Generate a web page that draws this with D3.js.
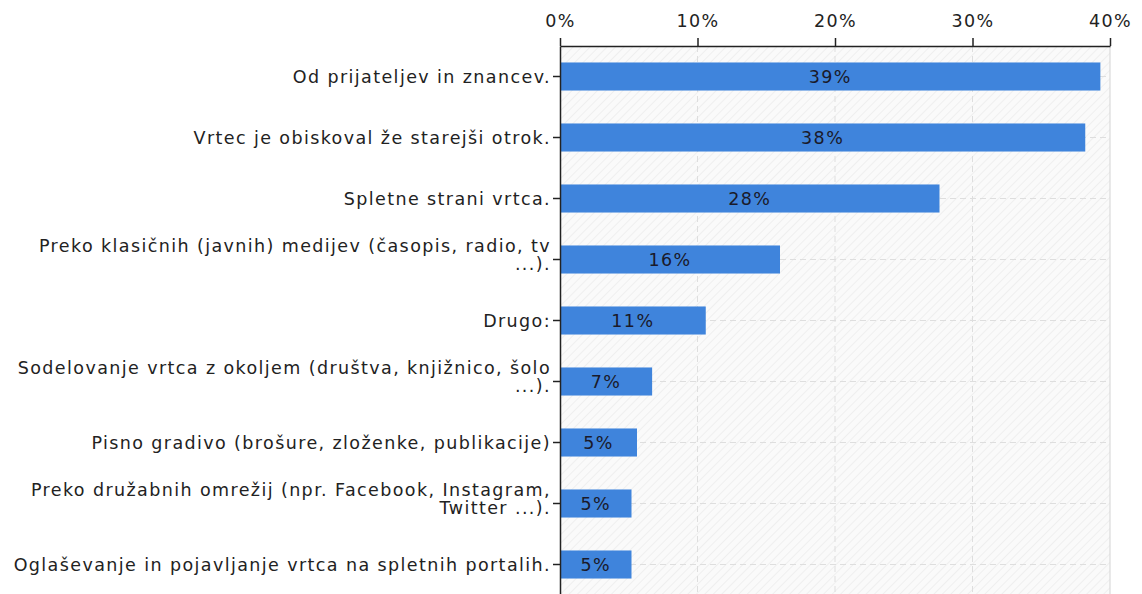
<!DOCTYPE html>
<html>
<head>
<meta charset="utf-8">
<script src="https://cdn.jsdelivr.net/npm/d3@7"></script>
<style>
  html, body { margin: 0; padding: 0; background: #fff; }
  svg { display: block; font-family: "DejaVu Sans", Verdana, sans-serif; }
  text { letter-spacing: 1.4px; }
</style>
</head>
<body>
<script>
// data
const categories = [
  "Od prijateljev in znancev.",
  "Vrtec je obiskoval že starejši otrok.",
  "Spletne strani vrtca.",
  "Preko klasičnih (javnih) medijev (časopis, radio, tv\n...).",
  "Drugo:",
  "Sodelovanje vrtca z okoljem (društva, knjižnico, šolo\n...).",
  "Pisno gradivo (brošure, zloženke, publikacije)",
  "Preko družabnih omrežij (npr. Facebook, Instagram,\nTwitter ...).",
  "Oglaševanje in pojavljanje vrtca na spletnih portalih."
];
const values = [39.3, 38.2, 27.6, 16.0, 10.6, 6.7, 5.6, 5.2, 5.2];
const valueLabels = ["39%", "38%", "28%", "16%", "11%", "7%", "5%", "5%", "5%"];
const xTicks = [0, 10, 20, 30, 40];

const width = 1142, height = 594;
const plotLeft = 560, plotRight = 1110, plotTop = 46;
const fontSize = 17.5;

const svg = d3.select("body").append("svg")
  .attr("width", width)
  .attr("height", height);

const x = d3.scaleLinear().domain([0, 40]).range([plotLeft, plotRight]);
const y = d3.scaleBand().domain(categories).range([plotTop, plotTop + 9 * 61])
  .paddingInner(0.54).paddingOuter(0.27);

// hatched background
const defs = svg.append("defs");
const pat = defs.append("pattern")
  .attr("id", "hatch")
  .attr("patternUnits", "userSpaceOnUse")
  .attr("width", 6).attr("height", 6)
  .attr("patternTransform", "rotate(45)");
pat.append("rect").attr("width", 6).attr("height", 6).attr("fill", "#fafafa");
pat.append("line").attr("x1", 0).attr("y1", 0).attr("x2", 0).attr("y2", 6)
  .attr("stroke", "#e8e8e8").attr("stroke-width", 1.2);

svg.append("rect")
  .attr("x", plotLeft).attr("y", plotTop)
  .attr("width", plotRight - plotLeft).attr("height", height - plotTop)
  .attr("fill", "url(#hatch)");

// grid
svg.append("g").selectAll("line")
  .data(xTicks.slice(1, -1))
  .join("line")
  .attr("x1", d => x(d)).attr("x2", d => x(d))
  .attr("y1", plotTop).attr("y2", height)
  .attr("stroke", "#dedede").attr("stroke-dasharray", "6,4");

svg.append("g").selectAll("line")
  .data(categories)
  .join("line")
  .attr("x1", plotLeft).attr("x2", plotRight)
  .attr("y1", d => y(d) + y.bandwidth() / 2).attr("y2", d => y(d) + y.bandwidth() / 2)
  .attr("stroke", "#dedede").attr("stroke-dasharray", "6,4");

svg.append("line")
  .attr("x1", plotRight).attr("x2", plotRight).attr("y1", plotTop).attr("y2", height)
  .attr("stroke", "#d4d4d4");

// bars
svg.append("g").selectAll("rect")
  .data(values)
  .join("rect")
  .attr("x", x(0))
  .attr("y", (d, i) => y(categories[i]))
  .attr("width", d => x(d) - x(0))
  .attr("height", y.bandwidth())
  .attr("fill", "#3f84dc");

svg.append("g").selectAll("text")
  .data(values)
  .join("text")
  .attr("x", d => (x(d) + x(0)) / 2)
  .attr("y", (d, i) => y(categories[i]) + y.bandwidth() / 2 + 6.5)
  .attr("text-anchor", "middle")
  .attr("font-size", fontSize)
  .attr("fill", "#1a1a2a")
  .text((d, i) => valueLabels[i]);

// top axis
const xAxis = svg.append("g")
  .attr("transform", `translate(0,${plotTop})`)
  .call(d3.axisTop(x).tickValues(xTicks).tickFormat(d => d + "%").tickSize(8).tickSizeOuter(0));
xAxis.select(".domain").attr("stroke", "#222").attr("stroke-width", 1.5);
xAxis.selectAll(".tick line").attr("stroke", "#222").attr("stroke-width", 1.5);
xAxis.selectAll(".tick text")
  .attr("font-size", fontSize).attr("fill", "#222")
  .attr("font-family", "DejaVu Sans, Verdana, sans-serif")
  .attr("y", -19);

// left axis
const yAxis = svg.append("g")
  .attr("transform", `translate(${plotLeft},0)`)
  .call(d3.axisLeft(y).tickSize(7).tickSizeOuter(0).tickFormat(""));
yAxis.select(".domain").attr("stroke", "#222").attr("stroke-width", 1.5);
yAxis.selectAll(".tick line").attr("stroke", "#222").attr("stroke-width", 1.5);

// wrapped category labels
yAxis.selectAll(".tick").each(function (d) {
  const lines = d.split("\n");
  const n = lines.length;
  const t = d3.select(this).append("text")
    .attr("text-anchor", "end")
    .attr("font-size", fontSize)
    .attr("fill", "#222")
    .attr("font-family", "DejaVu Sans, Verdana, sans-serif");
  lines.forEach((ln, k) => {
    t.append("tspan")
      .attr("x", -9)
      .attr("y", (k - (n - 1) / 2) * 18 + 6.5 - (n - 1) * 5)
      .text(ln);
  });
});
</script>
</body>
</html>
